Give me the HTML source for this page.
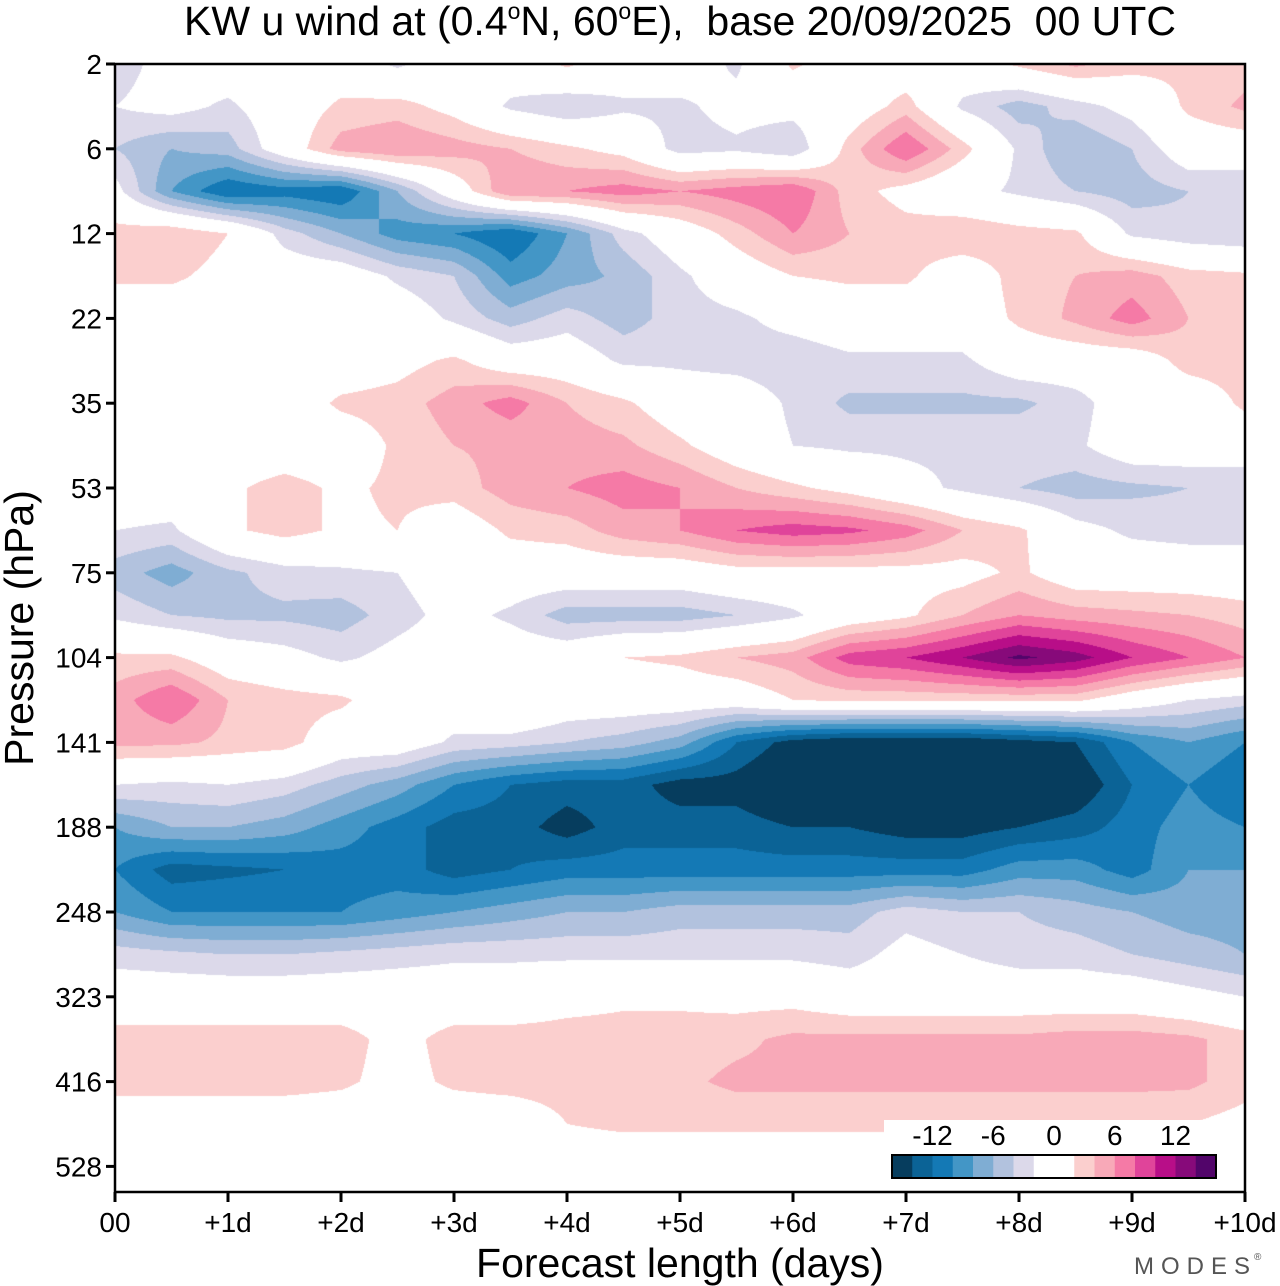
<!DOCTYPE html>
<html>
<head>
<meta charset="utf-8">
<style>
  html,body{margin:0;padding:0;background:#fff;}
  #wrap{position:relative;width:1280px;height:1286px;overflow:hidden;font-family:"Liberation Sans",sans-serif;}
  #field{position:absolute;left:115px;top:64px;}
  svg{position:absolute;left:0;top:0;}
  text{white-space:pre;}
</style>
</head>
<body>
<div id="wrap">
<canvas id="field" width="1130" height="1128"></canvas>
<svg id="ax" width="1280" height="1286"></svg>
</div>
<script>
// forecast day ticks and pressure ticks
const dayTicks = ["00","+1d","+2d","+3d","+4d","+5d","+6d","+7d","+8d","+9d","+10d"];
const pressureTicks = [2,6,12,22,35,53,75,104,141,188,248,323,416,528];
const levelBounds = [-16,-14,-12,-10,-8,-6,-4,-2,0,2,4,6,8,10,12,14];
const colorbarLabels = [-12,-6,0,6,12];
const binColors = ['#063d5e','#0b6396','#1479b5','#4396c6','#7fadd3','#b2c2de','#dcd9ea','#ffffff','#ffffff','#fbcfce','#f8a9b8','#f57aa6','#e0449a','#b80e88','#870a7a','#52056a'];
// u wind (m/s): rows every half pressure-tick index, columns every 0.5 day (0..10)
const uWind = [
[-3,-1,0,0,0,-2.5,0,0,2.5,0,0,-2.5,2.5,0,0,0,2.5,4.5,3,2.5,3],
[-2,-1,-2.5,0,2.5,3,1,-2.5,-4,-2.5,-2.5,-1,-1,0,3,-2.5,-5,-3,-1,2.5,4.5],
[-4,-6,-5,0,5,6,5,4,2.5,1,-3,-2.5,-4,3,8,3,-2.5,-6,-4,0,0],
[-1,-8,-12,-11,-12,-6,0,6,6,7,6,7,8,3,1,-1,-2.5,-4,-5,-4,-4],
[3,4,2,-3,-6,-9,-10,-12,-8,-3,0,3,6,4,3,4,3,2.5,-2.5,-3.5,-4],
[2.5,2.5,1,0,0,-2.5,-4,-9,-7,-5.5,-2.5,0,2,2.5,2.5,0,3,4,5,3,2.5],
[0,0,0,0,0,0,-2.5,-5,-3,-5,-3,-2.5,-1,0,0,0,2.5,4.5,7,4,3],
[0,0,0,0,0,1,2.5,0,0,-2.5,-2.5,-3,-3.5,-2.5,-2.5,-2.5,0,0,0,3,3],
[0,0,0,0,2.5,3,5,7,4,2.5,0,0,-2.5,-4.5,-4.5,-4.5,-4.5,-3,0,0,2.5],
[0,0,0,0,0,2.5,4,4.5,5,4.5,2.5,0,-2,-2.5,-2.5,-2.5,-2.5,-2.5,0,0,0],
[0,0,1.5,3,1.5,2.5,3,5,6,7,6,4,2.5,1,-1,-2.5,-4,-5,-4.5,-4,-4],
[-2,-2.5,1.5,3,1.5,2,0,2.5,3,5,6,8,9,8.5,7,4,2.5,-1,-2.5,-3,-3],
[-5,-7,-4.5,-3,-2.5,-2,0,0,0,0,0,1,1,1,1,1,2.5,0,0,0,0],
[-2.5,-4,-4.5,-4.5,-5,-3,-1,-2.5,-5,-5,-5,-4,-2.5,0,1.5,4,6,5,4.5,4,3],
[2.5,2.5,0,-1,-2.5,-1,0,0,0,2,2.5,4,5,9,10,12,14.5,13,10,8,6],
[5,8,4,3,2.5,0,0,2,0,0,0,0,2,2.5,2.5,2.5,2.5,2.5,0,-2,-3],
[4.5,4.5,3.5,3,0,0,-2.5,-3,-4,-5,-7,-12,-15,-16,-16,-16,-15,-14,-10,-8,-10],
[-2,-2.5,-2,-3,-5,-7,-10,-12,-13,-13,-15,-15,-17,-17,-17,-17,-17,-16,-12,-10,-12],
[-8,-6,-6,-7,-9,-11,-13,-13,-15,-13,-13,-13,-14,-14,-15,-15,-14,-13,-11,-9,-10],
[-10,-13,-12.5,-12,-11,-11,-13,-12,-11,-11,-11,-11,-11,-11,-11,-11,-9,-9,-11,-8,-8],
[-8,-10,-10,-10,-10,-9,-8,-7,-6,-6,-5,-5,-5,-5,-3,-4,-4,-5,-6,-7,-7],
[-3,-3.5,-4,-4,-3.5,-3,-2.5,-2.5,-2.5,-2.5,-2.5,-2.5,-2.5,-3,-1,-2,-3,-3,-4,-5,-6],
[0,0,0,0,0,0,0,0,1,1.5,1.5,1,1,0,0,0,0,0,0,-1,-2],
[3,3,3,3,3,1,3,3,3,3,3,3.5,4.5,4.5,4.5,4.5,4.5,5,5,4.5,3],
[3,3,3,3,2.5,1,2.5,3,3,3,3.5,4.5,4.5,4.5,4.5,4.5,4.5,4.5,4.5,4.5,3],
[0,0,0,0,0,0,0,0,2,2.5,2.5,2.5,2.5,2.5,2.5,2.5,2.5,2.5,2.5,2,1],
[0,0,0,0,0,0,0,0,0,0,0,0,0,0,0,0,0,0,0,0,0],
[0,0,0,0,0,3,2.5,0,0,0,0,0,0,0,0,0,0,0,0,0,0]
];

const PX0=115, PX1=1245, PY0=64, PY1=1192;
const pxPerDay=(PX1-PX0)/10, pxPerLevel=84.8;
function xOfDay(d){return PX0+d*pxPerDay;}
function yOfLevel(i){return PY0+i*pxPerLevel;}
function binOf(v){let k=Math.floor(v/2)+8; return Math.max(0,Math.min(15,k));}
function hex(c){return [parseInt(c.slice(1,3),16),parseInt(c.slice(3,5),16),parseInt(c.slice(5,7),16)];}

// draw field
(function(){
  const cv=document.getElementById('field'), ctx=cv.getContext('2d');
  const W=cv.width,H=cv.height, img=ctx.createImageData(W,H), rgb=binColors.map(hex);
  const nr=uWind.length, nc=uWind[0].length;
  for(let py=0;py<H;py++){
    let r=(py+0.5)/pxPerLevel*2; let r0=Math.min(Math.floor(r),nr-2); let fr=r-r0;
    for(let px=0;px<W;px++){
      let c=(px+0.5)/pxPerDay*2; let c0=Math.min(Math.floor(c),nc-2); let fc=c-c0;
      const v=(uWind[r0][c0]*(1-fc)+uWind[r0][c0+1]*fc)*(1-fr)+(uWind[r0+1][c0]*(1-fc)+uWind[r0+1][c0+1]*fc)*fr;
      const col=rgb[binOf(v)], o=(py*W+px)*4;
      img.data[o]=col[0];img.data[o+1]=col[1];img.data[o+2]=col[2];img.data[o+3]=255;
    }
  }
  ctx.putImageData(img,0,0);
})();

// axes
(function(){
  const NS='http://www.w3.org/2000/svg', svg=document.getElementById('ax');
  function mk(t,a,txt){const e=document.createElementNS(NS,t);for(const k in a)e.setAttribute(k,a[k]);if(txt!==undefined)e.textContent=txt;svg.appendChild(e);return e;}
  let e;
  e=mk('text',{x:680,y:35,'text-anchor':'middle','font-size':41,fill:'#000'});
  e.innerHTML='KW u wind at (0.4<tspan dy="-16" font-size="23">o</tspan><tspan dy="16">N, 60</tspan><tspan dy="-16" font-size="23">o</tspan><tspan dy="16">E),  base 20/09/2025  00 UTC</tspan>';
  
  
  // ticks
  pressureTicks.forEach((p,i)=>{
    const y=yOfLevel(i);
    e=mk('line',{x1:106,x2:115,y1:y,y2:y,stroke:'#000','stroke-width':3});
    
    
    e=mk('text',{x:102,y:y+10,'text-anchor':'end','font-size':28,fill:'#000'},String(p));
    
    
  });
  dayTicks.forEach((d,i)=>{
    const x=xOfDay(i);
    e=mk('line',{x1:x,x2:x,y1:PY1,y2:PY1+10,stroke:'#000','stroke-width':3});
    
    
    e=mk('text',{x:x,y:1232,'text-anchor':'middle','font-size':28,fill:'#000'},d);
    
    
  });
  // colorbar
  e=mk('rect',{x:884,y:1120,width:346,height:70,fill:'#fff'});
  
  
  const cbX=892, cbW=324/16;
  levelBounds.forEach((b,i)=>{
    e=mk('rect',{x:cbX+i*cbW,y:1155,width:cbW+0.5,height:23,fill:binColors[binOf(b+1)]});
    
    
  });
  e=mk('rect',{x:cbX,y:1155,width:324,height:23,fill:'none',stroke:'#000','stroke-width':2});
  
  
  colorbarLabels.forEach(v=>{
    const x=cbX+(levelBounds.indexOf(v))*cbW;
    e=mk('text',{x:x,y:1145,'text-anchor':'middle','font-size':28,fill:'#000'},String(v));
    
    
  });
  // frame
  e=mk('rect',{x:PX0,y:PY0,width:PX1-PX0,height:PY1-PY0,fill:'none',stroke:'#000','stroke-width':2.5});
  
  
  e=mk('text',{x:680,y:1277,'text-anchor':'middle','font-size':41,fill:'#000'},'Forecast length (days)');
  
  
  e=mk('text',{x:0,y:0,'text-anchor':'middle','font-size':41,fill:'#000',transform:'translate(33,628) rotate(-90)'},'Pressure (hPa)');
  
  
  e=mk('text',{x:1134,y:1274,'font-size':24,fill:'#555','letter-spacing':'7'},'MODES');
  
  
  e=mk('text',{x:1254,y:1260,'font-size':10,fill:'#555'},'®');
  
  
})();
</script>
</body>
</html>
